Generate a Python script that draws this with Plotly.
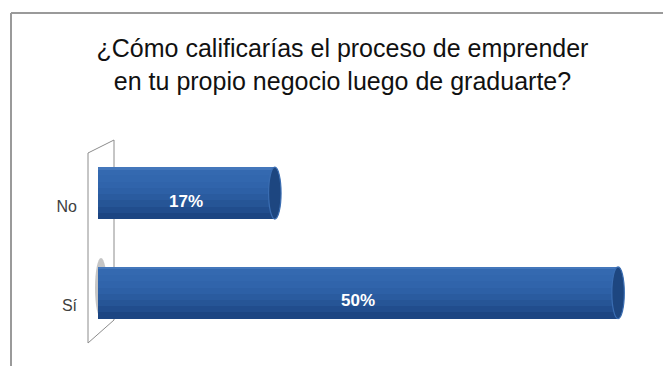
import plotly.graph_objects as go

# ---- data ----
categories = ["No", "Sí"]
values = [17, 50]
value_labels = ["17%", "50%"]
title_lines = ["¿Cómo calificarías el proceso de emprender", "en tu propio negocio luego de graduarte?"]

W, H = 671, 366
OFF = 8  # page body margin
L, R, T, B = 98 - OFF, 11, 135 - OFF, 21
PW, PH = W - L - R, H - T - B

def px(xs):
    return (xs - OFF - L) / PW

def py(ys):
    return (H - B - (ys - OFF)) / PH

fig = go.Figure()

bar_w = 0.52
top = -bar_w / 2
# cylinder shading: base dark, then lighter layers covering the upper part
shade = [
    (1.00, "#1c4582"),
    (0.88, "#214d8d"),
    (0.76, "#265596"),
    (0.64, "#2a5b9f"),
    (0.52, "#2d60a6"),
    (0.40, "#3064ab"),
    (0.28, "#3267ae"),
    (0.16, "#3469b0"),
    (0.05, "#4477bb"),
]
for frac, col in shade:
    fig.add_trace(go.Bar(
        y=categories, x=values, orientation="h",
        width=bar_w * frac, offset=top, marker=dict(color=col, line=dict(width=0)),
        hoverinfo="skip", showlegend=False,
    ))

# end caps (ellipses) from the data
cap_half = 0.6
for cat_i, v in enumerate(values):
    fig.add_shape(type="circle", xref="x", yref="y",
                  x0=v - cap_half, x1=v + cap_half,
                  y0=cat_i - bar_w / 2, y1=cat_i + bar_w / 2,
                  fillcolor="#1d4680", line=dict(color="#3a6db2", width=1.2))

# value labels
for cat, v, lab in zip(categories, values, value_labels):
    fig.add_annotation(x=v / 2, y=cat, xref="x", yref="y", text=f"<b>{lab}</b>",
                       showarrow=False, yshift=-8,
                       font=dict(family="Liberation Sans Narrow, Liberation Sans, Arial", size=17, color="white"))

# 3D wall (decorative)
fig.add_shape(type="path", xref="paper", yref="paper", layer="below",
              path=(f"M {px(88)} {py(153)} L {px(114)} {py(140)} L {px(114)} {py(320)} "
                    f"L {px(88)} {py(343)} Z"),
              line=dict(color="#8c8c8c", width=1), fillcolor="rgba(255,255,255,0)")
# shadow behind bottom bar
fig.add_shape(type="circle", xref="paper", yref="paper", layer="below",
              x0=px(95), x1=px(107), y0=py(318), y1=py(258),
              fillcolor="rgba(110,110,110,0.4)", line=dict(width=0))

# outer border lines (top & left)
fig.add_shape(type="line", xref="paper", yref="paper", x0=px(11), x1=px(W + 10), y0=py(13), y1=py(13),
              line=dict(color="#9a9a9a", width=2))
fig.add_shape(type="line", xref="paper", yref="paper", x0=px(11), x1=px(11), y0=py(13), y1=py(H + 10),
              line=dict(color="#9a9a9a", width=2))

fig.update_layout(
    width=W, height=H,
    margin=dict(l=L, r=R, t=T, b=B),
    paper_bgcolor="white", plot_bgcolor="white",
    barmode="overlay", bargap=0,
    title=dict(text="<br>".join(title_lines), x=334.5 / W, xanchor="center",
               y=1 - 49 / H, yanchor="top",
               font=dict(family="Liberation Sans, Arial", size=25, color="#111111")),
    xaxis=dict(range=[0, 54.8], visible=False),
    yaxis=dict(range=[1.604, -0.583], showgrid=False, zeroline=False, showline=False,
               ticks="", ticklabelstandoff=20, ticklabelshift=-13,
               tickfont=dict(family="Liberation Sans Narrow, Liberation Sans, Arial", size=16, color="#404040")),
)

fig.write_html("out.html")
